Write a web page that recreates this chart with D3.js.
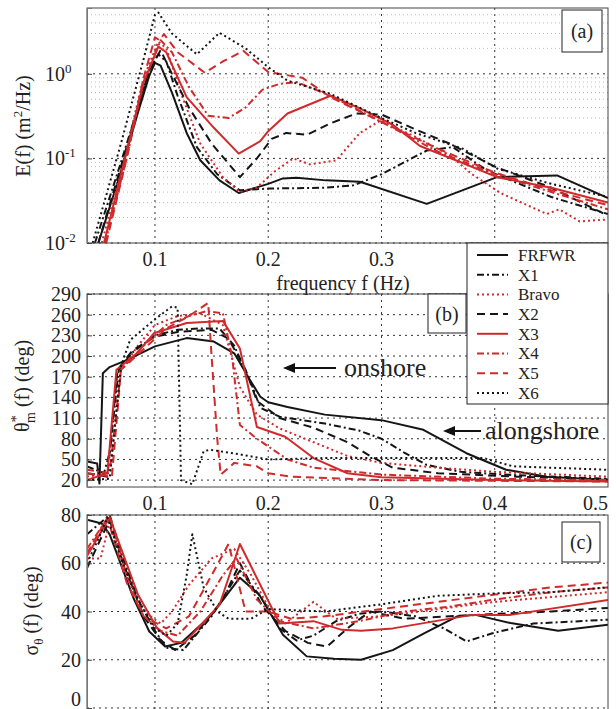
<!DOCTYPE html>
<html><head><meta charset="utf-8">
<script src="https://cdn.jsdelivr.net/npm/d3@7"></script>
<style>
body{margin:0;background:#fff}
svg{display:block}
svg text{font-family:'Liberation Serif','Times New Roman','DejaVu Serif',serif;fill:#222}
</style></head>
<body><svg id="chart" width="616" height="709" font-family="Liberation Serif, Times New Roman, DejaVu Serif, serif"></svg>
<script>
// ---------- DATA ----------
const seriesNames = ["FRFWR","X1","Bravo","X2","X3","X4","X5","X6"];
const xTicks = [0.1,0.2,0.3,0.4,0.5];
const eTicks = [0.01,0.1,1];
const eTickExp = ["-2","-1","0"];
const thetaTicks = [20,50,80,110,140,170,200,230,260,290];
const sigmaTicks = [0,20,40,60,80];

// (a) energy spectra E(f) [f, E]
const E_FRFWR = [[0.05,0.01],[0.07,0.07],[0.085,0.35],[0.095,0.95],[0.1,1.35],[0.105,1.25],[0.115,0.6],[0.128,0.2],[0.14,0.095],[0.157,0.055],[0.174,0.039],[0.2,0.05],[0.213,0.058],[0.225,0.059],[0.251,0.055],[0.281,0.053],[0.34,0.029],[0.402,0.06],[0.455,0.063],[0.5,0.034]];
const E_X1 = [[0.047,0.01],[0.07,0.09],[0.085,0.4],[0.095,1.1],[0.103,1.7],[0.11,1.4],[0.12,0.55],[0.137,0.136],[0.155,0.065],[0.175,0.042],[0.2,0.044],[0.25,0.045],[0.275,0.048],[0.3,0.065],[0.34,0.124],[0.363,0.136],[0.393,0.072],[0.45,0.035],[0.5,0.022]];
const E_Bravo = [[0.053,0.01],[0.075,0.13],[0.09,0.9],[0.103,2.4],[0.11,2.0],[0.125,0.5],[0.14,0.15],[0.16,0.06],[0.175,0.04],[0.19,0.045],[0.205,0.069],[0.222,0.1],[0.237,0.085],[0.26,0.095],[0.281,0.2],[0.299,0.28],[0.33,0.18],[0.36,0.11],[0.38,0.065],[0.405,0.039],[0.446,0.022],[0.457,0.025],[0.475,0.018],[0.5,0.019]];
const E_X2 = [[0.05,0.01],[0.07,0.08],[0.085,0.4],[0.095,1.1],[0.105,1.9],[0.115,1.0],[0.13,0.4],[0.15,0.15],[0.175,0.06],[0.19,0.1],[0.203,0.17],[0.216,0.2],[0.234,0.19],[0.255,0.26],[0.278,0.34],[0.3,0.33],[0.33,0.22],[0.36,0.15],[0.4,0.08],[0.45,0.045],[0.5,0.021]];
const E_X3 = [[0.055,0.01],[0.075,0.12],[0.09,0.8],[0.103,2.1],[0.11,1.8],[0.128,0.53],[0.152,0.23],[0.174,0.114],[0.193,0.16],[0.2,0.21],[0.217,0.34],[0.255,0.55],[0.281,0.39],[0.31,0.25],[0.334,0.14],[0.37,0.09],[0.402,0.06],[0.45,0.045],[0.5,0.03]];
const E_X4 = [[0.056,0.01],[0.075,0.1],[0.09,0.8],[0.105,2.5],[0.115,1.8],[0.13,0.7],[0.147,0.32],[0.165,0.3],[0.18,0.4],[0.195,0.65],[0.21,0.76],[0.225,0.8],[0.255,0.55],[0.3,0.27],[0.35,0.12],[0.4,0.065],[0.45,0.04],[0.5,0.025]];
const E_X5 = [[0.057,0.01],[0.075,0.1],[0.09,0.9],[0.1,2.7],[0.104,2.5],[0.108,2.95],[0.12,1.8],[0.144,1.03],[0.16,1.4],[0.178,1.87],[0.2,1.05],[0.23,0.9],[0.255,0.53],[0.3,0.27],[0.35,0.13],[0.4,0.068],[0.45,0.042],[0.5,0.028]];
const E_X6 = [[0.045,0.01],[0.07,0.15],[0.09,1.5],[0.1,5.0],[0.103,5.3],[0.115,3.0],[0.137,1.7],[0.157,3.06],[0.18,2.0],[0.2,1.2],[0.217,0.83],[0.255,0.58],[0.3,0.3],[0.33,0.2],[0.372,0.13],[0.402,0.076],[0.45,0.05],[0.5,0.035]];

// (b) mean direction theta*_m(f) [f, deg]
const T_FRFWR = [[0.04,47],[0.049,44],[0.051,15],[0.054,175],[0.06,184],[0.075,194],[0.1,214],[0.128,226],[0.152,221],[0.17,204],[0.184,165],[0.193,141],[0.2,133],[0.217,126],[0.25,115],[0.3,107],[0.337,93],[0.375,59],[0.41,35],[0.446,25],[0.5,20]];
const T_X1 = [[0.04,40],[0.055,30],[0.06,60],[0.068,180],[0.08,205],[0.1,230],[0.12,238],[0.14,240],[0.157,240],[0.17,215],[0.185,160],[0.193,125],[0.21,112],[0.25,102],[0.28,92],[0.3,80],[0.32,60],[0.34,42],[0.37,32],[0.42,27],[0.5,22]];
const T_Bravo = [[0.04,25],[0.06,30],[0.07,180],[0.085,215],[0.1,245],[0.12,258],[0.14,262],[0.16,245],[0.175,155],[0.19,115],[0.21,95],[0.24,75],[0.27,55],[0.3,45],[0.35,38],[0.4,32],[0.5,25]];
const T_X2 = [[0.04,30],[0.058,25],[0.067,180],[0.08,208],[0.1,228],[0.12,235],[0.15,238],[0.165,225],[0.18,180],[0.19,135],[0.21,110],[0.24,96],[0.27,75],[0.29,55],[0.31,38],[0.35,30],[0.42,25],[0.5,21]];
const T_X3 = [[0.04,20],[0.058,30],[0.066,180],[0.084,204],[0.099,233],[0.128,248],[0.16,251],[0.175,211],[0.19,97],[0.215,83],[0.24,52],[0.27,30],[0.3,24],[0.4,20],[0.5,18]];
const T_X4 = [[0.04,35],[0.06,30],[0.07,180],[0.09,215],[0.11,245],[0.13,258],[0.145,265],[0.16,262],[0.168,200],[0.175,100],[0.19,80],[0.217,50],[0.24,38],[0.3,28],[0.4,22],[0.5,20]];
const T_X5 = [[0.04,30],[0.062,25],[0.07,180],[0.09,210],[0.11,240],[0.13,258],[0.147,277],[0.15,200],[0.155,80],[0.158,28],[0.17,45],[0.19,40],[0.2,30],[0.22,25],[0.3,20],[0.5,18]];
const T_X6 = [[0.04,20],[0.06,22],[0.07,185],[0.078,223],[0.099,252],[0.115,272],[0.12,270],[0.123,20],[0.133,14],[0.143,62],[0.149,64],[0.169,59],[0.2,50],[0.25,52],[0.39,52],[0.416,40],[0.5,35]];

// (c) directional spread sigma_theta(f) [f, deg]
const S_FRFWR = [[0.04,78],[0.053,76.5],[0.06,72],[0.081,45.6],[0.095,31.7],[0.109,25.5],[0.123,27],[0.15,38.6],[0.175,54],[0.192,47],[0.213,30.4],[0.234,21.4],[0.258,20.4],[0.282,20],[0.31,24],[0.338,31],[0.367,38],[0.383,38.6],[0.414,35.2],[0.456,32],[0.5,34.5]];
const S_X1 = [[0.04,72],[0.06,80],[0.072,62],[0.085,45],[0.1,32],[0.11,25],[0.125,24],[0.15,38],[0.175,57],[0.195,45],[0.21,33],[0.225,28],[0.24,30],[0.26,36],[0.28,39],[0.3,40],[0.33,38],[0.355,33],[0.375,27.6],[0.398,31],[0.434,35],[0.5,36.6]];
const S_Bravo = [[0.04,62],[0.052,62],[0.06,77],[0.075,55],[0.09,40],[0.105,35],[0.115,40],[0.13,51],[0.15,62],[0.17,66],[0.185,55],[0.2,42],[0.215,35],[0.24,44],[0.26,37],[0.3,38],[0.35,41],[0.4,44],[0.45,46],[0.5,48]];
const S_X2 = [[0.04,58],[0.06,78],[0.072,60],[0.09,38],[0.105,28],[0.118,24],[0.135,30],[0.16,45],[0.175,60],[0.195,42],[0.215,32],[0.235,27],[0.252,25.5],[0.272,33.8],[0.29,40],[0.32,37],[0.36,38],[0.4,39],[0.45,40],[0.5,41.5]];
const S_X3 = [[0.04,63],[0.06,79],[0.085,47],[0.102,33],[0.116,27.6],[0.126,27],[0.157,42.8],[0.175,68],[0.21,35],[0.24,36],[0.265,32.4],[0.282,32],[0.31,33],[0.38,38.6],[0.414,38.6],[0.5,44.8]];
const S_X4 = [[0.04,66],[0.06,80],[0.075,55],[0.09,38],[0.105,32],[0.12,30],[0.14,40],[0.16,55],[0.172,62],[0.19,45],[0.21,36],[0.24,33],[0.28,36],[0.32,40],[0.36,42],[0.4,45],[0.45,48],[0.5,50]];
const S_X5 = [[0.04,64],[0.058,79],[0.075,52],[0.09,38],[0.11,33],[0.13,38],[0.15,55],[0.165,68],[0.18,40],[0.2,40],[0.22,37],[0.25,38],[0.3,41],[0.35,44],[0.4,47],[0.45,50],[0.5,52]];
const S_X6 = [[0.04,60],[0.05,70],[0.058,79],[0.07,62],[0.085,45],[0.1,33],[0.11,30],[0.12,35],[0.128,55],[0.133,72],[0.143,50],[0.155,40],[0.165,37],[0.185,37],[0.2,41],[0.25,40],[0.3,43],[0.35,46.5],[0.4,47.5],[0.45,48],[0.5,50]];

const energy = {FRFWR:E_FRFWR,X1:E_X1,Bravo:E_Bravo,X2:E_X2,X3:E_X3,X4:E_X4,X5:E_X5,X6:E_X6};
const theta = {FRFWR:T_FRFWR,X1:T_X1,Bravo:T_Bravo,X2:T_X2,X3:T_X3,X4:T_X4,X5:T_X5,X6:T_X6};
const sigma = {FRFWR:S_FRFWR,X1:S_X1,Bravo:S_Bravo,X2:S_X2,X3:S_X3,X4:S_X4,X5:S_X5,X6:S_X6};

// ---------- STYLE ----------
const FONT = "'Liberation Serif','Times New Roman','DejaVu Serif',serif";
const BLACK = "#151515", RED = "#cf2a2c";
const styles = {
  FRFWR:{c:BLACK,d:null}, X1:{c:BLACK,d:"7,3,2,3"}, Bravo:{c:RED,d:"2,3"}, X2:{c:BLACK,d:"8,5"},
  X3:{c:RED,d:null}, X4:{c:RED,d:"7,3,2,3"}, X5:{c:RED,d:"8,5"}, X6:{c:BLACK,d:"2,3"}
};

const svg = d3.select("#chart");
const L = 87, R = 608;
const x = d3.scaleLinear().domain([0.04,0.5]).range([L,R]);

const panels = [
  {id:"a", y:d3.scaleLog().domain([0.01,6]).range([243,8]), top:8, bottom:243, data:energy},
  {id:"b", y:d3.scaleLinear().domain([10,290]).range([487,294]), top:294, bottom:487, data:theta},
  {id:"c", y:d3.scaleLinear().domain([0,80]).range([708,515]), top:515, bottom:760, data:sigma}
];

const defs = svg.append("defs");
panels.forEach(p=>{
  defs.append("clipPath").attr("id","clip"+p.id).append("rect")
    .attr("x",L).attr("y",p.top).attr("width",R-L).attr("height",p.bottom-p.top);
});

function grid(g, p, yvals, minor){
  g.selectAll(null).data([0.1,0.2,0.3,0.4]).join("line")
    .attr("x1",d=>x(d)).attr("x2",d=>x(d)).attr("y1",p.top).attr("y2",p.bottom)
    .attr("stroke","#333").attr("stroke-width",1).attr("stroke-dasharray","2,4");
  if(minor){
    g.selectAll(null).data(minor).join("line")
      .attr("x1",L).attr("x2",R).attr("y1",d=>p.y(d)).attr("y2",d=>p.y(d))
      .attr("stroke","#aaa").attr("stroke-width",0.8).attr("stroke-dasharray","1,3");
  }
  g.selectAll(null).data(yvals).join("line")
    .attr("x1",L).attr("x2",R).attr("y1",d=>p.y(d)).attr("y2",d=>p.y(d))
    .attr("stroke","#333").attr("stroke-width",1).attr("stroke-dasharray","2,4");
}

const minorLog = [];
[0.01,0.1,1].forEach(b=>{for(let k=2;k<=9;k++){const v=b*k; if(v<6) minorLog.push(v);}});

panels.forEach((p,i)=>{
  const g = svg.append("g");
  const yv = i===0 ? eTicks : (i===1 ? thetaTicks : sigmaTicks);
  grid(g, p, yv, i===0 ? minorLog : null);
  const line = d3.line().x(d=>x(d[0])).y(d=>p.y(d[1]));
  const lg = g.append("g").attr("clip-path","url(#clip"+p.id+")");
  seriesNames.forEach(n=>{
    lg.append("path").datum(p.data[n]).attr("d",line)
      .attr("fill","none").attr("stroke",styles[n].c).attr("stroke-width",2)
      .attr("stroke-dasharray",styles[n].d).attr("stroke-linejoin","round");
  });
  g.append("rect").attr("x",L).attr("y",p.top).attr("width",R-L).attr("height",p.bottom-p.top)
    .attr("fill","none").attr("stroke","#444").attr("stroke-width",1);
  const ax = d3.axisLeft(p.y).tickValues(yv).tickSize(-5).tickFormat("");
  const axg = g.append("g").attr("transform",`translate(${L},0)`).call(ax);
  axg.select(".domain").attr("stroke","#777");
  axg.selectAll(".tick line").attr("stroke","#444");
});

function txt(sel){ return sel.attr("font-family",FONT).attr("fill","#222"); }

const pa = panels[0], pb = panels[1], pc = panels[2];
eTicks.forEach((v,i)=>{
  const t = txt(svg.append("text")).attr("x",45).attr("y",pa.y(v)).attr("dy","0.35em").attr("font-size",20);
  t.append("tspan").text("10");
  t.append("tspan").attr("dy",-8).attr("font-size",13).text(eTickExp[i]);
});
txt(svg.selectAll(null).data(thetaTicks).join("text"))
  .attr("x",81).attr("y",d=>pb.y(d)).attr("dy","0.35em").attr("text-anchor","end")
  .attr("font-size",20).text(d=>d);
txt(svg.selectAll(null).data(sigmaTicks).join("text"))
  .attr("x",81).attr("y",d=>Math.min(pc.y(d),699)).attr("dy","0.35em").attr("text-anchor","end")
  .attr("font-size",20).text(d=>d);

txt(svg.selectAll(null).data([0.1,0.2,0.3,0.4]).join("text"))
  .attr("x",d=>x(d)).attr("y",259).attr("dy","0.35em").attr("text-anchor","middle")
  .attr("font-size",20).text(d=>d3.format(".1f")(d));
txt(svg.selectAll(null).data(xTicks).join("text"))
  .attr("x",d=>Math.min(x(d),615)).attr("y",503).attr("dy","0.35em")
  .attr("text-anchor",d=>x(d)>600?"end":"middle")
  .attr("font-size",20).text(d=>d3.format(".1f")(d));

txt(svg.append("text")).attr("x",343).attr("y",283).attr("dy","0.35em").attr("text-anchor","middle")
  .attr("font-size",20).text("frequency f (Hz)");

const ya = txt(svg.append("text")).attr("transform","translate(30,126) rotate(-90)").attr("text-anchor","middle").attr("font-size",20);
ya.append("tspan").text("E(f) (m");
ya.append("tspan").attr("dy",-8).attr("font-size",13).text("2");
ya.append("tspan").attr("dy",8).text("/Hz)");

const yb = txt(svg.append("text")).attr("transform","translate(29,386) rotate(-90)").attr("text-anchor","middle").attr("font-size",20);
yb.append("tspan").text("θ");
yb.append("tspan").attr("dy",-8).attr("font-size",15).text("*");
yb.append("tspan").attr("dx",-8).attr("dy",14).attr("font-size",14).text("m");
yb.append("tspan").attr("dy",-6).text(" (f) (deg)");

const yc = txt(svg.append("text")).attr("transform","translate(38,611) rotate(-90)").attr("text-anchor","middle").attr("font-size",20);
yc.append("tspan").text("σ");
yc.append("tspan").attr("dy",5).attr("font-size",13).text("θ");
yc.append("tspan").attr("dy",-5).text(" (f) (deg)");

[{t:"(a)",x:562,y:10,w:40,h:42},{t:"(b)",x:428,y:294,w:38,h:39},{t:"(c)",x:562,y:522,w:38,h:40}].forEach(b=>{
  svg.append("rect").attr("x",b.x).attr("y",b.y).attr("width",b.w).attr("height",b.h)
    .attr("fill","#fff").attr("stroke","#222").attr("stroke-width",1);
  txt(svg.append("text")).attr("x",b.x+b.w/2).attr("y",b.y+b.h/2).attr("dy","0.35em")
    .attr("text-anchor","middle").attr("font-size",20).text(b.t);
});

function arrow(x1,x2,yy){
  svg.append("line").attr("x1",x1).attr("x2",x2+8).attr("y1",yy).attr("y2",yy)
    .attr("stroke","#111").attr("stroke-width",2);
  svg.append("path").attr("d",`M${x2},${yy} L${x2+12},${yy-5} L${x2+12},${yy+5} Z`).attr("fill","#111");
}
arrow(336,283,368);
txt(svg.append("text")).attr("x",344).attr("y",367).attr("dy","0.35em").attr("font-size",26).text("onshore");
arrow(481,443,431);
txt(svg.append("text")).attr("x",485).attr("y",430).attr("dy","0.35em").attr("font-size",26).text("alongshore");

const lgd = svg.append("g");
lgd.append("rect").attr("x",467).attr("y",243).attr("width",141).attr("height",161)
  .attr("fill","#fff").attr("stroke","#222").attr("stroke-width",1);
seriesNames.forEach((n,i)=>{
  const yy = 255 + i*19.7;
  lgd.append("line").attr("x1",477).attr("x2",508).attr("y1",yy).attr("y2",yy)
    .attr("stroke",styles[n].c).attr("stroke-width",2).attr("stroke-dasharray",styles[n].d);
  txt(lgd.append("text")).attr("x",518).attr("y",yy).attr("dy","0.35em").attr("font-size",17).text(n);
});
</script></body></html>
